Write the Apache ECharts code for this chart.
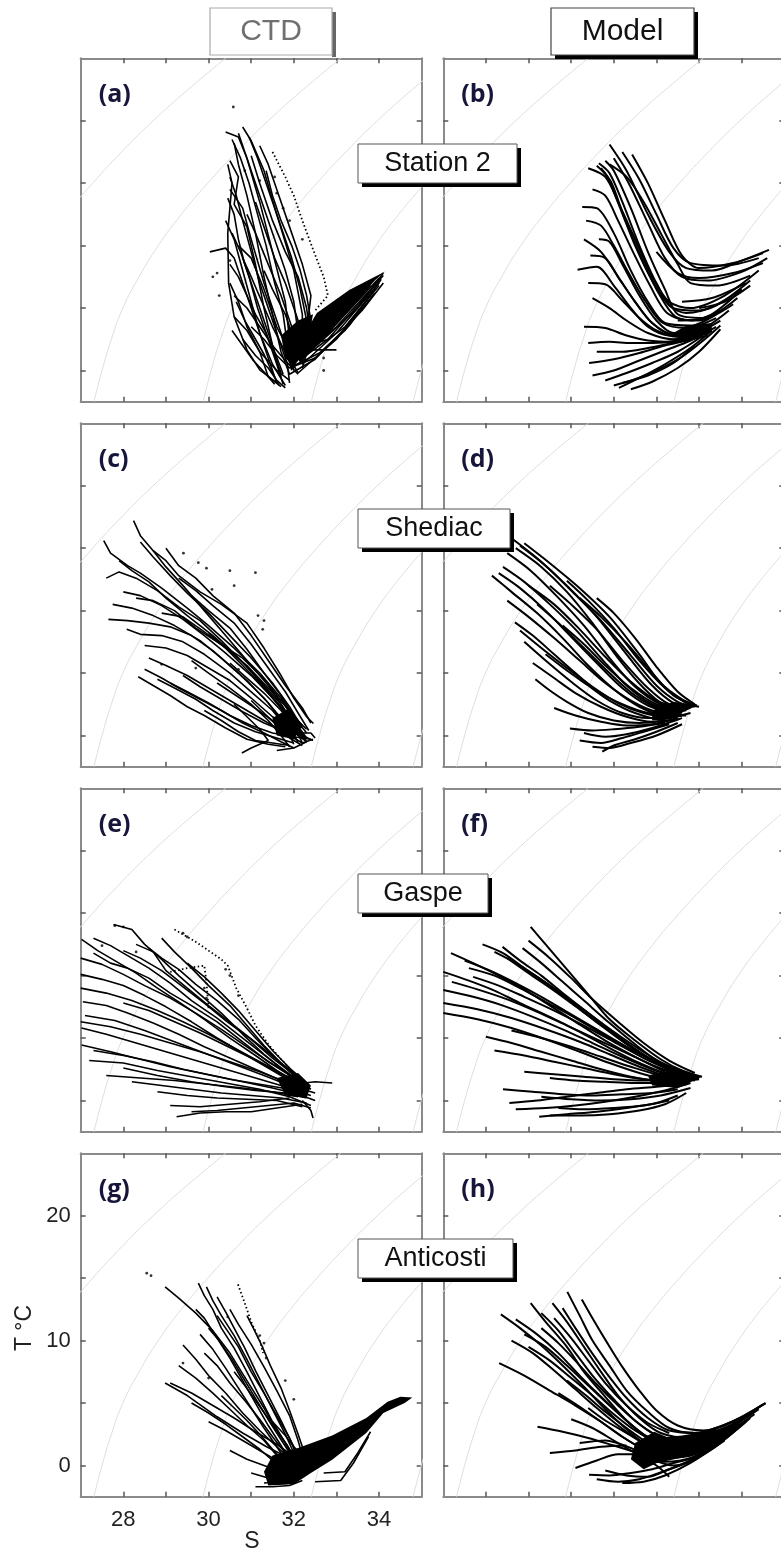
<!DOCTYPE html>
<html>
<head>
<meta charset="utf-8">
<script src="https://cdn.jsdelivr.net/npm/echarts@6/dist/echarts.min.js"></script>
<style>
html, body { margin: 0; padding: 0; background: #fff; }
#chart { width: 781px; height: 1559px; }
</style>
</head>
<body>
<div id="chart"></div>
<script>
// axes (same in every panel)
const sTicks = [28, 29, 30, 31, 32, 33, 34];
const sLabels = [28, 30, 32, 34];
const tTicks = [0, 5, 10, 15, 20];
const tLabels = [0, 10, 20];

const columnTitles = ["CTD", "Model"];
const stationNames = ["Station 2", "Shediac", "Gaspe", "Anticosti"];
const panelLetters = ["(a)", "(b)", "(c)", "(d)", "(e)", "(f)", "(g)", "(h)"];

// isopycnals (light grey arcs), [S, T]
const iso1 = [[25.67, 7.5], [26.12, 10], [26.66, 12.5], [27.28, 15], [27.96, 17.5], [28.7, 20], [29.52, 22.5], [30.4, 25]];
const iso2 = [[27.31, -2.5], [27.5, 0], [27.72, 2.5], [27.99, 5], [28.37, 7.5], [28.82, 10], [29.36, 12.5], [29.98, 15], [30.66, 17.5], [31.4, 20], [32.22, 22.5], [33.1, 25]];
const iso3 = [[29.87, -2.5], [30.06, 0], [30.28, 2.5], [30.55, 5], [30.93, 7.5], [31.38, 10], [31.92, 12.5], [32.54, 15], [33.22, 17.5], [33.96, 20], [34.78, 22.5], [35.66, 25]];
const iso4 = [[32.41, -2.5], [32.6, 0], [32.82, 2.5], [33.09, 5], [33.47, 7.5], [33.92, 10], [34.46, 12.5], [35.08, 15]];
const iso5 = [[34.8, -2.5], [34.99, 0], [35.21, 2.5]];

// (a) Station 2, CTD
const linesA = [
  [[30.4,19.1],[30.7,18.7],[30.9,17.0],[31.2,13.5],[31.5,9.5],[31.8,5.5],[31.9,2.5],[32.0,0.6],[32.6,2.2],[33.5,5.0],[34.1,7.8]],
  [[30.8,19.5],[31.0,18.4],[31.3,16.0],[31.6,12.5],[32.0,8.0],[32.2,4.5],[32.2,1.5],[32.8,3.0],[34.0,7.4]],
  [[30.6,18.2],[30.7,16.5],[30.9,14.0],[31.1,11.0],[31.3,7.5],[31.5,4.5],[31.7,1.5],[31.9,-0.3],[32.5,0.9],[33.6,4.8],[34.1,7.0]],
  [[30.5,16.8],[30.7,15.5],[30.6,13.3],[30.9,11.5],[31.1,8.5],[31.3,5.0],[31.5,2.0],[31.7,-0.5]],
  [[30.03,9.5],[30.4,9.8],[30.6,9.0],[30.8,7.0],[31.1,4.0],[31.4,1.0],[31.6,-1.0]],
  [[31.2,18.0],[31.4,16.5],[31.6,14.5],[31.9,11.5],[32.2,8.5],[32.4,6.0],[32.3,3.0],[32.2,0.5],[33.0,3.0],[34.0,7.0]],
  [[30.5,14.5],[30.8,13.0],[31.0,10.5],[31.3,7.0],[31.6,4.0],[31.9,1.0],[32.1,-0.2],[33.0,2.5],[33.9,6.5]],
  [[30.4,12.0],[30.6,10.5],[30.8,8.0],[31.0,5.5],[31.2,3.0],[31.5,0.5],[31.8,-1.2]],
  [[30.5,7.0],[30.7,5.5],[30.9,3.5],[31.2,1.5],[31.4,-0.5],[31.7,-1.3]],
  [[30.6,4.3],[30.9,3.2],[31.2,1.5],[31.6,0.0],[31.9,-0.8]],
  [[31.0,17.2],[31.2,15.0],[31.5,12.0],[31.8,9.5],[32.1,7.5],[32.3,5.0],[32.4,2.5],[32.9,3.5],[33.8,6.8]],
  [[30.9,12.5],[31.1,11.0],[31.4,8.5],[31.7,6.0],[32.0,3.0],[32.2,1.0],[33.2,3.5],[34.0,6.8]],
  [[30.7,10.0],[31.0,9.0],[31.3,6.5],[31.6,3.5],[31.9,1.5],[32.0,0.0]],
  [[30.6,6.0],[30.9,5.0],[31.2,3.5],[31.5,2.0],[31.8,0.8],[32.1,-0.3]],
  [[31.3,8.0],[31.5,6.5],[31.8,4.5],[32.0,2.5],[32.3,1.5],[33.0,3.5],[34.1,7.6]],
  [[30.8,2.5],[31.1,1.2],[31.4,0.2],[31.6,-0.8],[31.8,-1.4]],
  [[32.4,1.65],[33.0,1.65]],
  [[30.45,16.5],[30.55,15.0],[30.5,13.0],[30.45,11.0],[30.47,7.0],[30.6,4.3],[30.9,1.65],[31.2,0.05],[31.6,-1.0]],
  [[30.55,18.5],[30.75,17.0],[30.95,15.0],[31.15,12.5],[31.35,10.0],[31.55,7.0],[31.75,4.5],[31.85,2.0],[31.95,0.0]],
  [[30.7,19.0],[30.85,17.5],[31.05,15.5],[31.3,13.0],[31.55,10.5],[31.8,8.0],[32.0,5.5],[32.1,3.0],[32.15,1.0]],
  [[30.95,18.7],[31.15,17.0],[31.4,14.5],[31.7,11.5],[31.95,9.0],[32.15,6.5],[32.3,4.0],[32.25,2.0]],
  [[30.5,15.5],[30.65,14.0],[30.8,12.0],[31.0,9.5],[31.2,7.0],[31.45,4.5],[31.65,2.5],[31.85,0.5],[31.9,-1.0]],
  [[30.45,13.8],[30.6,12.5],[30.7,10.5],[30.85,8.5],[31.05,6.5],[31.3,4.0],[31.55,1.5],[31.75,-0.3]],
  [[30.55,11.0],[30.75,9.5],[30.95,7.5],[31.15,5.0],[31.4,2.5],[31.6,0.5],[31.75,-1.1]],
  [[30.5,8.5],[30.7,7.5],[30.9,6.0],[31.1,4.5],[31.35,3.0],[31.55,1.2],[31.7,-0.2]],
  [[30.65,5.5],[30.85,4.0],[31.05,2.8],[31.3,1.3],[31.5,-0.2],[31.65,-1.2]],
  [[30.55,3.2],[30.8,2.0],[31.05,0.8],[31.35,-0.3],[31.55,-1.1]],
  [[31.35,16.0],[31.5,14.0],[31.7,12.0],[31.95,10.0],[32.15,8.0],[32.3,6.0],[32.4,4.0],[32.35,2.0],[32.2,0.2]],
  [[31.1,13.5],[31.3,11.5],[31.55,9.0],[31.8,7.0],[32.0,5.0],[32.15,3.5],[32.2,1.8],[32.8,2.5],[33.5,5.2],[34.0,7.2]],
  [[30.8,9.0],[31.0,7.5],[31.25,5.5],[31.5,3.5],[31.75,1.8],[31.95,0.3],[32.6,1.4],[33.3,3.6],[34.05,7.3]],
  [[31.0,3.5],[31.3,2.5],[31.6,1.2],[31.9,0.2],[32.5,1.0],[33.2,3.2],[33.9,6.2]]
];
const dottedA = [
  [[31.5,17.5],[31.8,15.5],[32.0,14.0],[32.2,12.0],[32.45,9.7],[32.7,7.5],[32.8,6.0],[32.5,4.8]]
];
const dotsA = [[30.58,21.1],[31.55,15.5],[31.6,14.2],[31.75,13.0],[31.9,12.0],[32.2,10.5],[30.2,7.8],[30.1,7.5],[30.5,8.8],[30.25,6.0],[32.7,1.0],[32.7,0.0],[30.85,16.0],[31.2,15.2]];
const blobsA = [
  [[32.54,4.6],[33.3,6.45],[34.14,7.93],[33.9,7.2],[33.16,4.3],[32.6,2.2],[32.15,0.6],[32.0,1.5]],
  [[31.7,2.8],[32.1,4.0],[32.45,4.5],[32.3,1.8],[32.0,0.3],[31.8,1.0]]
];

// (b) Station 2, model
const linesB = [
  [[30.9,18.1],[31.3,16.0],[31.8,12.5],[32.3,9.5],[32.7,8.2],[33.3,8.0],[34.0,8.8],[34.64,9.66]],
  [[31.43,17.3],[31.8,15.0],[32.2,12.0],[32.6,9.2],[33.0,8.2],[33.8,8.6],[34.5,9.4]],
  [[30.4,16.2],[30.8,15.5],[31.1,13.5],[31.5,10.5],[31.9,7.5],[32.3,5.5],[32.8,5.0],[33.6,6.0],[34.4,8.0]],
  [[30.65,16.6],[30.9,15.8],[31.2,13.5],[31.6,10.0],[32.0,7.0],[32.4,5.0],[33.0,4.8],[34.0,6.5]],
  [[30.8,16.8],[31.0,16.0],[31.4,13.0],[31.8,9.5],[32.2,6.5],[32.5,4.5],[33.1,4.2],[33.9,5.8]],
  [[30.26,13.1],[30.6,13.0],[31.0,11.0],[31.4,8.0],[31.8,5.5],[32.2,3.8],[32.8,3.6],[33.4,4.5]],
  [[30.65,10.5],[30.9,10.3],[31.2,8.5],[31.6,6.0],[32.0,4.0],[32.4,3.0],[33.0,3.2],[33.7,4.8]],
  [[30.15,8.06],[30.6,8.3],[31.0,6.8],[31.4,5.0],[31.8,3.5],[32.3,2.8],[33.0,3.0]],
  [[30.3,3.5],[30.8,3.4],[31.3,2.8],[31.8,2.4],[32.4,2.3],[33.2,2.8]],
  [[30.42,0.6],[31.0,0.9],[31.6,1.4],[32.2,2.0],[32.8,2.5],[33.3,3.3]],
  [[31.12,-1.4],[31.6,-0.6],[32.2,0.5],[32.8,1.8],[33.3,3.2]],
  [[30.9,16.5],[31.3,15.5],[31.7,13.5],[32.1,11.0],[32.5,8.5],[32.8,7.0],[33.4,6.8],[34.2,7.6]],
  [[31.2,17.5],[31.6,15.3],[32.0,12.5],[32.4,9.8],[32.8,8.6],[33.6,8.4],[34.4,9.0]],
  [[30.3,10.5],[30.7,9.5],[31.1,7.5],[31.5,5.5],[31.9,3.8],[32.4,2.9],[33.0,3.0]],
  [[30.5,5.8],[30.9,5.0],[31.3,4.0],[31.8,3.0],[32.4,2.5],[33.1,3.0]],
  [[30.6,1.5],[31.2,1.5],[31.8,1.8],[32.5,2.3],[33.2,3.0]],
  [[30.8,-0.8],[31.3,-0.2],[31.9,0.6],[32.5,1.5],[33.1,2.8]],
  [[31.2,-1.0],[31.8,-0.4],[32.4,0.6],[32.9,2.0]],
  [[32.5,4.0],[33.2,4.3],[34.0,6.46]],
  [[32.6,5.5],[33.3,5.8],[34.1,7.0]],
  [[30.6,16.4],[30.85,15.5],[31.15,13.0],[31.5,10.0],[31.9,7.2],[32.3,5.2],[32.7,4.6],[33.4,5.2],[34.2,7.2]],
  [[30.7,16.2],[30.95,15.0],[31.25,12.2],[31.65,9.0],[32.05,6.2],[32.45,4.3],[33.0,4.0],[33.8,5.3]],
  [[30.5,14.5],[30.8,14.0],[31.1,12.0],[31.45,9.5],[31.85,6.8],[32.25,4.6],[32.8,4.0],[33.5,4.8]],
  [[30.35,12.0],[30.7,11.6],[31.0,10.0],[31.35,7.8],[31.75,5.5],[32.15,3.8],[32.7,3.4],[33.4,4.2]],
  [[30.45,9.2],[30.8,9.0],[31.1,7.5],[31.5,5.5],[31.9,3.8],[32.35,2.9],[32.9,3.0],[33.5,4.0]],
  [[30.4,7.0],[30.8,6.9],[31.2,5.6],[31.6,4.2],[32.0,3.2],[32.5,2.7],[33.1,3.0]],
  [[30.4,2.2],[30.9,2.3],[31.4,2.2],[31.9,2.2],[32.5,2.4],[33.2,3.0]],
  [[30.5,-0.4],[31.0,0.0],[31.6,0.8],[32.2,1.6],[32.8,2.4],[33.4,3.5]],
  [[31.0,-1.2],[31.5,-0.7],[32.0,0.0],[32.6,1.1],[33.1,2.4],[33.5,3.6]],
  [[31.4,-1.5],[31.9,-0.9],[32.5,0.2],[33.0,1.5],[33.5,3.3]],
  [[31.0,17.0],[31.35,15.0],[31.8,11.8],[32.2,9.0],[32.6,7.5],[33.2,7.2],[34.0,7.9],[34.6,9.0]],
  [[32.0,9.5],[32.5,7.8],[33.0,7.4],[33.8,7.8],[34.5,8.6]],
  [[33.0,5.0],[33.6,5.5],[34.2,6.8]]
];
const blobsB = [
  [[32.3,2.8],[32.7,3.6],[33.3,3.8],[33.3,3.1],[32.8,2.4]]
];

// (c) Shediac, CTD
const linesC = [
  [[28.24,17.2],[28.4,16.0],[28.7,14.8],[29.0,13.5],[29.4,12.0],[29.9,10.0],[30.4,8.0],[30.9,6.0],[31.4,4.0],[31.8,2.0],[32.1,0.5],[32.3,-0.3]],
  [[27.54,15.6],[27.7,14.6],[28.1,13.6],[28.4,13.0],[28.9,11.8],[29.5,10.2],[30.0,8.8],[30.6,7.0],[31.2,5.0],[31.7,3.0],[32.0,1.2],[32.2,0.0]],
  [[27.6,12.6],[27.9,13.1],[28.3,12.6],[28.8,11.6],[29.3,10.3],[29.8,9.2],[30.3,7.6],[30.9,5.5],[31.4,3.5],[31.9,1.5],[32.2,-0.2]],
  [[27.65,9.3],[28.1,9.2],[28.6,9.0],[29.1,8.7],[29.6,8.0],[30.1,6.8],[30.7,5.0],[31.3,3.0],[31.8,1.0],[32.1,-0.5]],
  [[28.08,8.5],[28.4,8.1],[28.9,8.0],[29.4,7.5],[29.9,6.5],[30.5,5.0],[31.0,3.5],[31.5,2.0],[31.9,0.3]],
  [[28.35,4.7],[28.7,4.0],[29.1,3.2],[29.5,2.3],[29.9,1.6],[30.4,0.6],[30.9,-0.3],[31.4,-0.7],[31.8,-0.9]],
  [[28.8,4.5],[29.2,3.8],[29.7,2.9],[30.1,2.0],[30.6,1.0],[31.1,0.3],[31.6,-0.2],[32.0,-0.6]],
  [[29.1,4.2],[29.5,3.5],[30.0,2.6],[30.5,1.6],[31.0,0.8],[31.5,0.2],[32.0,-0.1],[32.4,-0.3]],
  [[28.7,14.8],[29.0,14.0],[29.3,12.8],[29.8,11.5],[30.3,10.5],[30.9,9.0],[31.3,7.0],[31.7,4.8],[32.0,3.0],[32.3,1.5],[32.46,0.96]],
  [[29.0,15.0],[29.3,13.6],[29.7,12.6],[30.1,11.2],[30.6,9.8],[31.0,8.0],[31.4,6.0],[31.8,4.0],[32.2,2.2],[32.4,1.0]],
  [[28.3,11.0],[28.7,10.8],[29.2,10.0],[29.7,8.6],[30.2,7.5],[30.8,6.2],[31.3,4.5],[31.7,2.8],[32.0,1.5],[32.3,0.5]],
  [[28.5,7.2],[29.0,7.0],[29.5,6.4],[30.0,5.4],[30.5,4.4],[31.0,3.0],[31.5,1.5],[31.9,0.5],[32.3,-0.5]],
  [[29.6,6.0],[30.0,5.0],[30.5,3.8],[31.0,2.5],[31.4,1.2],[31.7,0.0],[31.9,-0.9]],
  [[30.6,2.5],[30.9,1.5],[31.2,0.5],[31.4,-0.4],[31.0,-1.0],[30.78,-1.4]],
  [[29.9,2.0],[30.3,1.2],[30.7,0.3],[31.1,-0.4],[31.5,-0.6],[31.9,-0.8]],
  [[28.9,9.8],[29.4,9.5],[29.9,8.3],[30.4,7.0],[30.9,5.6],[31.4,3.8],[31.9,2.0],[32.2,0.8]],
  [[30.2,4.2],[30.6,3.3],[31.0,2.4],[31.5,1.2],[32.0,0.2],[32.4,0.2],[32.5,-0.2]],
  [[28.4,15.5],[28.7,14.3],[29.1,12.8],[29.5,11.4],[30.0,9.8],[30.5,8.0],[31.0,6.2],[31.5,4.2],[31.9,2.3],[32.2,0.6]],
  [[27.9,14.0],[28.2,13.2],[28.6,12.3],[29.0,11.0],[29.5,9.6],[30.1,8.0],[30.7,6.2],[31.2,4.4],[31.7,2.5],[32.0,0.8],[32.2,-0.6]],
  [[28.0,11.5],[28.4,11.2],[28.9,10.4],[29.4,9.3],[29.9,8.0],[30.4,6.6],[31.0,4.8],[31.5,3.0],[31.9,1.3],[32.1,0.0]],
  [[27.75,10.5],[28.2,10.2],[28.7,9.6],[29.2,8.8],[29.8,7.6],[30.3,6.2],[30.9,4.4],[31.4,2.6],[31.8,0.8],[32.0,-0.7]],
  [[28.6,6.2],[29.0,5.6],[29.5,4.8],[30.0,3.8],[30.5,2.8],[31.0,1.8],[31.5,0.8],[31.9,-0.2],[32.2,-0.8]],
  [[28.5,5.3],[28.9,4.6],[29.3,3.8],[29.8,2.9],[30.3,2.0],[30.8,1.0],[31.3,0.2],[31.7,-0.5],[32.0,-1.0]],
  [[29.4,4.8],[29.8,3.9],[30.3,2.9],[30.8,1.9],[31.3,1.0],[31.8,0.3],[32.2,0.0],[32.45,-0.4]],
  [[29.3,12.6],[29.7,11.6],[30.1,10.4],[30.6,9.0],[31.0,7.3],[31.4,5.4],[31.8,3.5],[32.1,1.8],[32.35,0.4]],
  [[29.6,11.2],[30.0,10.0],[30.5,8.6],[30.9,6.9],[31.3,5.0],[31.7,3.2],[32.0,1.5],[32.3,0.2]],
  [[30.0,8.2],[30.4,7.0],[30.8,5.6],[31.2,4.2],[31.6,2.6],[32.0,1.2],[32.3,-0.2]],
  [[30.5,5.8],[30.9,4.6],[31.3,3.4],[31.7,2.0],[32.0,0.8],[32.3,-0.5],[32.0,-1.0],[31.6,-1.2]],
  [[31.0,2.8],[31.3,1.8],[31.6,0.8],[31.9,0.0],[32.2,-0.6],[32.45,-0.3]]
];
const dotsC = [[29.41,14.6],[29.76,13.84],[29.95,13.4],[30.5,13.2],[30.6,12.0],[31.1,13.04],[30.08,11.7],[31.16,9.6],[31.3,9.2],[31.27,8.5],[28.9,5.7],[30.7,5.3],[29.7,5.4]];
const blobsC = [
  [[31.5,1.4],[31.9,2.2],[32.2,0.8],[32.0,-0.3],[31.6,0.0]]
];

// (d) Shediac, model
const linesD = [
  [[28.9,15.4],[29.5,13.8],[30.2,11.8],[30.9,9.5],[31.6,6.5],[32.1,4.2],[32.6,2.9],[32.95,2.4]],
  [[28.6,15.8],[29.2,14.2],[29.9,12.0],[30.6,9.5],[31.3,6.5],[31.9,4.0],[32.4,2.6],[32.8,2.2]],
  [[28.7,15.0],[29.3,13.5],[29.9,11.5],[30.5,9.0],[31.1,6.2],[31.7,3.8],[32.2,2.4],[32.7,2.0]],
  [[28.14,12.8],[28.6,11.5],[29.2,9.8],[29.8,7.8],[30.4,5.6],[31.0,3.7],[31.6,2.3],[32.2,1.6],[32.7,1.6]],
  [[28.4,13.5],[28.9,12.3],[29.5,10.5],[30.1,8.5],[30.7,6.2],[31.3,4.0],[31.9,2.5],[32.5,2.0]],
  [[28.68,9.06],[29.1,8.0],[29.6,6.5],[30.1,5.0],[30.6,3.6],[31.2,2.5],[31.8,1.8],[32.4,1.6]],
  [[29.16,4.5],[29.5,3.6],[29.9,2.7],[30.4,1.8],[31.0,1.2],[31.6,1.0],[32.2,1.2]],
  [[29.4,6.5],[29.9,5.2],[30.4,4.0],[30.9,2.8],[31.5,1.8],[32.1,1.3],[32.6,1.6]],
  [[29.5,12.0],[30.0,10.5],[30.6,8.5],[31.2,6.0],[31.8,3.8],[32.3,2.5],[32.8,2.3]],
  [[29.2,10.5],[29.7,9.0],[30.3,7.0],[30.9,5.0],[31.5,3.2],[32.1,2.1],[32.6,1.9]],
  [[28.9,7.5],[29.4,6.0],[30.0,4.3],[30.6,2.8],[31.2,1.8],[31.8,1.4],[32.3,1.4]],
  [[29.97,0.56],[30.5,0.4],[31.0,0.5],[31.6,0.7],[32.2,1.0]],
  [[30.2,-0.4],[30.7,-0.6],[31.2,-0.2],[31.8,0.4],[32.3,0.9]],
  [[30.73,-1.3],[31.0,-0.8],[31.5,-0.3],[32.0,0.3],[32.5,1.0]],
  [[30.6,11.0],[31.0,9.8],[31.5,7.8],[32.0,5.5],[32.5,3.5],[32.9,2.5]],
  [[29.8,8.8],[30.3,7.3],[30.8,5.6],[31.4,3.8],[32.0,2.5],[32.6,2.1]],
  [[28.8,15.2],[29.4,13.6],[30.0,11.6],[30.7,9.2],[31.4,6.4],[32.0,4.0],[32.5,2.7],[32.9,2.3]],
  [[28.5,14.6],[29.05,13.2],[29.65,11.2],[30.3,8.8],[30.9,6.2],[31.5,3.9],[32.1,2.5],[32.7,2.1]],
  [[28.3,13.0],[28.8,11.8],[29.4,10.0],[30.0,7.9],[30.6,5.8],[31.2,3.8],[31.8,2.4],[32.4,1.8]],
  [[28.5,10.8],[29.0,9.5],[29.6,7.8],[30.2,6.0],[30.8,4.2],[31.4,2.8],[32.0,1.9],[32.6,1.7]],
  [[28.8,8.4],[29.3,7.0],[29.9,5.4],[30.5,3.9],[31.1,2.6],[31.7,1.8],[32.3,1.5],[32.8,1.8]],
  [[29.1,5.8],[29.6,4.6],[30.1,3.4],[30.7,2.3],[31.3,1.5],[31.9,1.1],[32.5,1.3]],
  [[29.6,2.2],[30.1,1.6],[30.7,1.1],[31.3,0.8],[31.9,0.9],[32.5,1.4]],
  [[30.3,0.2],[30.8,-0.1],[31.3,0.1],[31.9,0.6],[32.6,1.4]],
  [[30.5,-0.9],[30.9,-1.0],[31.4,-0.6],[32.0,0.0],[32.6,0.9]],
  [[29.9,12.4],[30.4,10.8],[31.0,8.6],[31.6,6.0],[32.2,3.8],[32.7,2.6],[33.0,2.3]],
  [[30.2,11.0],[30.7,9.5],[31.3,7.4],[31.9,5.0],[32.4,3.2],[32.85,2.5]],
  [[29.0,12.0],[29.6,10.5],[30.2,8.5],[30.8,6.3],[31.4,4.3],[32.0,2.8],[32.6,2.2]]
];
const blobsD = [
  [[31.9,2.0],[32.4,2.7],[32.95,2.4],[32.4,1.5],[31.9,1.2]]
];

// (e) Gaspe, CTD
const linesE = [
  [[27.77,14.1],[28.2,13.7],[28.5,12.5],[28.9,11.3],[29.3,10.0],[29.8,8.5],[30.3,7.0],[30.8,5.3],[31.3,3.7],[31.8,2.3],[32.2,1.2]],
  [[27.02,12.9],[27.4,12.0],[27.8,11.2],[28.3,10.2],[28.8,9.0],[29.3,7.9],[29.9,6.5],[30.5,5.0],[31.1,3.6],[31.6,2.4],[32.1,1.3]],
  [[27.0,10.1],[27.5,9.7],[28.0,9.2],[28.5,8.4],[29.0,7.5],[29.6,6.3],[30.2,5.0],[30.8,3.8],[31.4,2.6],[31.9,1.6],[32.3,0.8]],
  [[27.05,7.9],[27.6,7.6],[28.1,7.0],[28.7,6.2],[29.3,5.3],[29.9,4.3],[30.5,3.4],[31.1,2.5],[31.7,1.6],[32.2,0.9]],
  [[27.02,5.8],[27.6,5.3],[28.2,4.7],[28.8,4.1],[29.4,3.5],[30.0,2.9],[30.6,2.3],[31.2,1.7],[31.8,1.1],[32.3,0.6]],
  [[27.02,4.45],[27.7,3.9],[28.4,3.3],[29.1,2.7],[29.8,2.2],[30.5,1.7],[31.2,1.3],[31.9,0.9],[32.4,0.4]],
  [[28.0,2.6],[28.8,2.0],[29.6,1.5],[30.4,1.1],[31.1,0.8],[31.8,0.6],[32.3,0.2]],
  [[29.25,-1.3],[29.8,-1.0],[30.4,-0.9],[31.0,-0.9],[31.6,-0.6],[32.2,-0.3]],
  [[28.6,12.2],[28.9,11.4],[29.3,10.5],[29.7,9.3],[30.2,8.0],[30.7,6.5],[31.1,5.0],[31.5,3.6],[31.9,2.3],[32.2,1.6]],
  [[27.3,11.8],[27.7,11.0],[28.1,10.6],[28.6,9.8],[29.1,8.6],[29.6,7.6],[30.2,6.3],[30.8,4.7],[31.4,3.1],[32.0,1.9]],
  [[28.3,12.5],[28.7,11.9],[29.0,10.4],[29.5,9.0],[30.0,7.6],[30.6,6.0],[31.2,4.4],[31.7,3.0],[32.2,1.7]],
  [[27.1,6.8],[27.8,6.4],[28.5,5.6],[29.2,4.7],[29.9,3.8],[30.6,2.9],[31.3,2.0],[31.9,1.2],[32.5,0.6]],
  [[27.2,3.2],[28.0,3.0],[28.8,2.4],[29.6,1.9],[30.4,1.4],[31.2,0.9],[31.9,0.3],[32.4,-0.4]],
  [[28.8,0.7],[29.5,0.4],[30.2,0.2],[30.9,0.1],[31.6,0.0],[32.2,-0.5]],
  [[29.1,-0.4],[29.8,-0.5],[30.5,-0.3],[31.2,-0.1],[31.9,0.2]],
  [[32.0,1.3],[32.5,1.5],[32.9,1.4]],
  [[32.2,0.0],[32.4,-0.8],[32.45,-1.4]],
  [[27.3,13.0],[27.7,12.4],[28.1,11.6],[28.6,10.6],[29.1,9.4],[29.6,8.0],[30.2,6.6],[30.8,5.0],[31.4,3.4],[31.9,2.1],[32.3,1.0]],
  [[27.0,11.4],[27.5,10.9],[28.0,10.1],[28.5,9.2],[29.1,8.2],[29.7,7.0],[30.3,5.7],[30.9,4.3],[31.5,2.9],[32.0,1.8],[32.4,0.9]],
  [[27.0,9.0],[27.6,8.6],[28.2,8.0],[28.8,7.2],[29.4,6.3],[30.0,5.3],[30.6,4.2],[31.2,3.1],[31.8,2.0],[32.3,1.1]],
  [[27.0,6.3],[27.7,5.9],[28.4,5.3],[29.1,4.6],[29.8,3.9],[30.5,3.1],[31.2,2.3],[31.8,1.5],[32.3,0.8]],
  [[27.3,4.0],[28.0,3.6],[28.7,3.1],[29.4,2.5],[30.1,2.0],[30.8,1.5],[31.5,1.0],[32.1,0.5],[32.5,0.0]],
  [[28.2,1.5],[28.9,1.2],[29.6,0.9],[30.3,0.6],[31.0,0.4],[31.7,0.2],[32.3,-0.2]],
  [[29.6,-0.9],[30.2,-0.8],[30.8,-0.6],[31.4,-0.4],[32.0,-0.2],[32.4,-0.6]],
  [[28.9,13.0],[29.2,11.9],[29.6,10.6],[30.0,9.2],[30.5,7.6],[30.9,6.0],[31.3,4.4],[31.7,3.0],[32.1,1.8]],
  [[28.0,12.0],[28.4,11.4],[28.9,10.4],[29.4,9.1],[29.9,7.8],[30.4,6.4],[31.0,4.9],[31.5,3.4],[32.0,2.1]],
  [[29.5,11.0],[29.9,9.9],[30.3,8.6],[30.7,7.2],[31.1,5.6],[31.5,4.0],[31.9,2.6],[32.3,1.4]],
  [[28.0,7.8],[28.6,7.2],[29.2,6.3],[29.8,5.4],[30.4,4.4],[31.0,3.4],[31.6,2.3],[32.2,1.3]],
  [[27.6,2.0],[28.4,1.8],[29.2,1.6],[30.0,1.3],[30.8,1.0],[31.5,0.7],[32.1,0.3]]
];
const dottedE = [
  [[29.2,13.7],[29.7,12.7],[30.3,11.3],[30.45,10.8],[30.65,9.0],[30.9,7.4],[31.1,6.0],[31.4,4.5],[31.7,3.3],[32.0,2.2]],
  [[29.1,10.3],[29.5,10.6],[29.9,10.8],[29.95,9.5],[30.0,7.4]]
];
const dotsE = [[27.8,14.0],[28.0,13.9],[29.4,13.4],[29.5,13.1],[30.4,10.5],[29.9,9.0],[29.95,8.2],[27.5,12.4],[28.3,11.9],[30.5,10.0],[30.7,8.4]];
const blobsE = [
  [[31.6,1.8],[32.1,2.2],[32.4,1.2],[32.3,0.2],[31.8,0.4]]
];

// (f) Gaspe, model
const linesF = [
  [[29.05,13.9],[29.4,12.5],[29.9,10.5],[30.4,8.5],[30.9,6.5],[31.5,4.8],[32.1,3.3],[32.6,2.4],[33.07,1.9]],
  [[28.86,12.2],[29.3,11.0],[29.8,9.5],[30.3,8.0],[30.9,6.2],[31.5,4.5],[32.1,3.0],[32.7,2.2]],
  [[27.92,12.5],[28.4,11.8],[28.9,10.6],[29.5,9.2],[30.1,7.6],[30.7,6.0],[31.3,4.5],[31.9,3.2],[32.5,2.3]],
  [[28.39,12.3],[28.8,11.2],[29.3,10.0],[29.8,8.6],[30.4,7.0],[31.0,5.4],[31.6,3.9],[32.2,2.7],[32.8,2.0]],
  [[27.18,11.8],[27.7,11.0],[28.3,10.0],[28.9,8.9],[29.5,7.6],[30.1,6.3],[30.8,4.8],[31.5,3.5],[32.2,2.3]],
  [[27.0,10.3],[27.6,9.6],[28.2,8.8],[28.8,7.8],[29.5,6.7],[30.2,5.5],[30.9,4.2],[31.6,3.0],[32.3,2.0]],
  [[27.0,8.85],[27.7,8.3],[28.4,7.6],[29.1,6.7],[29.8,5.7],[30.5,4.6],[31.2,3.5],[31.9,2.5],[32.6,1.8]],
  [[27.0,7.0],[27.8,6.5],[28.6,5.8],[29.4,4.9],[30.2,3.9],[30.9,3.0],[31.6,2.2],[32.3,1.6]],
  [[28.0,5.1],[28.6,4.6],[29.3,3.9],[30.0,3.2],[30.7,2.5],[31.4,1.9],[32.1,1.5],[32.7,1.3]],
  [[28.55,-0.2],[29.2,0.0],[29.9,0.3],[30.6,0.6],[31.3,0.9],[32.0,1.1],[32.6,1.3]],
  [[29.25,-1.3],[29.9,-1.1],[30.6,-0.9],[31.3,-0.6],[32.0,-0.2],[32.5,0.4]],
  [[28.4,0.9],[29.1,0.7],[29.8,0.5],[30.5,0.4],[31.2,0.5],[31.9,0.6],[32.5,0.9]],
  [[29.5,1.8],[30.1,1.6],[30.8,1.5],[31.5,1.4],[32.2,1.4],[32.9,1.7]],
  [[29.7,-0.6],[30.3,-0.7],[31.0,-0.6],[31.7,-0.4],[32.3,0.0]],
  [[27.6,10.6],[28.2,10.0],[28.8,9.0],[29.4,7.9],[30.0,6.8],[30.7,5.4],[31.4,4.1],[32.1,2.9],[32.8,2.1]],
  [[28.5,11.4],[29.0,10.2],[29.6,8.8],[30.2,7.3],[30.8,5.8],[31.4,4.3],[32.0,3.1],[32.6,2.3]],
  [[27.5,11.2],[28.1,10.4],[28.7,9.4],[29.3,8.3],[29.9,7.1],[30.6,5.7],[31.3,4.3],[32.0,3.1],[32.7,2.2]],
  [[27.2,9.5],[27.8,8.9],[28.5,8.1],[29.2,7.1],[29.9,6.0],[30.6,4.9],[31.3,3.8],[32.0,2.7],[32.7,1.9]],
  [[27.0,7.8],[27.8,7.3],[28.6,6.6],[29.4,5.7],[30.2,4.7],[30.9,3.7],[31.6,2.7],[32.3,1.9],[32.9,1.6]],
  [[28.2,4.0],[28.9,3.6],[29.6,3.1],[30.3,2.6],[31.0,2.1],[31.7,1.7],[32.4,1.5],[33.0,1.7]],
  [[28.9,2.3],[29.6,2.1],[30.3,1.9],[31.0,1.7],[31.7,1.6],[32.4,1.6],[33.0,1.8]],
  [[28.7,-0.7],[29.4,-0.6],[30.1,-0.4],[30.8,-0.1],[31.5,0.3],[32.2,0.8],[32.8,1.4]],
  [[29.5,-1.2],[30.2,-1.2],[30.9,-1.1],[31.6,-0.8],[32.2,-0.3],[32.7,0.6]],
  [[29.3,0.3],[30.0,0.1],[30.7,0.0],[31.4,0.1],[32.1,0.4],[32.8,1.0]],
  [[29.0,12.8],[29.5,11.4],[30.0,9.8],[30.5,8.1],[31.1,6.3],[31.7,4.6],[32.3,3.2],[32.9,2.2]],
  [[28.2,11.9],[28.7,11.0],[29.2,9.9],[29.8,8.5],[30.4,7.0],[31.0,5.5],[31.6,4.1],[32.2,2.9],[32.9,2.0]],
  [[27.7,9.9],[28.3,9.2],[28.9,8.3],[29.6,7.2],[30.3,6.0],[31.0,4.7],[31.7,3.4],[32.4,2.3]],
  [[28.6,5.6],[29.3,5.0],[30.0,4.3],[30.7,3.5],[31.4,2.7],[32.1,2.0],[32.8,1.6]]
];
const blobsF = [
  [[31.8,2.0],[32.4,2.5],[33.07,1.9],[32.5,1.0],[31.9,1.2]]
];

// (g) Anticosti, CTD
const linesG = [
  [[28.98,14.3],[29.3,13.4],[29.7,12.2],[30.1,10.8],[30.5,9.0],[30.9,6.8],[31.3,4.6],[31.6,2.8],[31.9,1.3],[32.1,0.2]],
  [[29.76,14.6],[29.9,13.6],[30.1,12.5],[30.3,11.0],[30.6,9.4],[30.9,7.5],[31.2,5.5],[31.5,3.5],[31.8,1.8],[32.0,0.5]],
  [[29.95,14.3],[30.1,13.2],[30.3,12.0],[30.6,10.4],[30.9,8.5],[31.2,6.5],[31.5,4.5],[31.8,2.5],[32.0,1.0]],
  [[28.98,6.6],[29.5,5.6],[30.2,3.9],[30.8,2.6],[31.36,1.5],[31.98,0.45]],
  [[29.4,9.65],[29.7,8.5],[30.0,7.2],[30.4,5.8],[30.8,4.2],[31.2,2.8],[31.6,1.5],[32.0,0.3]],
  [[29.7,12.5],[29.9,11.8],[30.2,10.2],[30.5,8.6],[30.8,6.8],[31.1,5.0],[31.4,3.2],[31.7,1.6],[32.0,-0.2]],
  [[30.2,12.0],[30.4,11.0],[30.7,9.5],[31.0,7.5],[31.3,5.8],[31.6,4.0],[31.9,2.2],[32.1,0.8]],
  [[29.8,10.5],[30.1,9.3],[30.4,7.8],[30.7,6.2],[31.0,4.6],[31.3,3.0],[31.6,1.5],[31.9,0.0],[32.0,-1.0]],
  [[29.3,8.0],[29.7,7.0],[30.1,5.8],[30.5,4.5],[30.9,3.2],[31.3,2.0],[31.6,0.8],[31.9,-0.5]],
  [[29.6,5.0],[30.0,4.2],[30.4,3.3],[30.8,2.3],[31.2,1.3],[31.5,0.4],[31.8,-0.6]],
  [[30.5,12.5],[30.7,11.3],[31.0,9.7],[31.3,7.9],[31.6,6.0],[31.9,4.0],[32.1,2.0],[32.2,0.8]],
  [[30.3,5.6],[30.6,4.6],[30.9,3.6],[31.2,2.5],[31.5,1.3],[31.8,0.2],[32.0,-1.0]],
  [[31.1,-1.7],[31.5,-1.7],[31.9,-1.6],[32.2,-1.2]],
  [[31.3,-1.4],[31.7,-1.3],[32.1,-1.0],[32.4,-0.2]],
  [[32.5,-1.3],[33.1,-1.2],[33.4,0.2],[33.75,2.3]],
  [[32.7,-0.6],[33.2,-0.5],[33.5,1.0],[33.8,2.7]],
  [[31.5,3.5],[31.8,2.4],[32.0,1.5],[32.2,0.8]],
  [[30.2,13.5],[30.4,12.3],[30.6,11.0],[30.85,9.4],[31.1,7.6],[31.4,5.6],[31.7,3.6],[31.95,1.8],[32.1,0.4]],
  [[30.0,11.0],[30.25,10.0],[30.55,8.5],[30.85,6.8],[31.15,5.1],[31.45,3.4],[31.75,1.8],[32.0,0.5]],
  [[29.9,9.0],[30.2,8.0],[30.5,6.6],[30.85,5.2],[31.2,3.7],[31.5,2.3],[31.8,1.0],[32.0,-0.5]],
  [[30.9,12.0],[31.05,11.0],[31.25,9.6],[31.45,8.0],[31.7,6.2],[31.9,4.4],[32.1,2.5],[32.25,1.0]],
  [[30.6,7.5],[30.85,6.4],[31.1,5.2],[31.35,4.0],[31.6,2.8],[31.85,1.6],[32.05,0.3]],
  [[29.1,6.6],[29.6,5.8],[30.1,4.8],[30.6,3.8],[31.1,2.7],[31.6,1.7],[32.0,0.7]],
  [[30.0,3.5],[30.4,2.8],[30.8,2.0],[31.2,1.2],[31.6,0.4],[31.9,-0.4],[32.1,-1.2]],
  [[31.0,-0.6],[31.4,-1.0],[31.8,-1.2],[32.2,-0.8]],
  [[30.5,1.2],[30.9,0.5],[31.3,0.0],[31.7,-0.5],[32.1,-0.9]]
];
const dottedG = [
  [[30.69,14.5],[30.85,13.0],[31.0,11.5],[31.2,10.0],[31.28,9.0]]
];
const dotsG = [[28.55,15.4],[28.65,15.2],[31.2,10.4],[31.35,8.6],[31.8,6.8],[32.0,5.3],[29.4,8.2],[30.0,7.0],[31.3,9.8],[30.45,11.9]];
const blobsG = [
  [[32.1,1.4],[32.9,2.4],[33.7,3.8],[34.2,5.1],[34.5,5.5],[34.78,5.45],[34.6,5.0],[34.1,4.2],[33.7,2.6],[32.9,0.45],[32.4,-0.6],[32.0,-0.2]],
  [[31.5,0.8],[32.1,1.4],[32.4,-0.6],[32.0,-1.5],[31.4,-1.6],[31.3,-0.5]]
];

// (h) Anticosti, model
const linesH = [
  [[29.91,13.9],[30.2,12.0],[30.5,10.0],[30.9,8.0],[31.3,6.0],[31.8,4.3],[32.3,3.0],[32.9,2.6],[33.7,3.4],[34.56,5.0]],
  [[29.56,13.0],[29.9,11.5],[30.3,9.5],[30.7,7.5],[31.1,5.6],[31.6,3.8],[32.1,2.6],[32.8,2.2],[33.6,3.0],[34.4,4.6]],
  [[29.05,13.0],[29.4,11.5],[29.9,9.5],[30.3,7.5],[30.8,5.5],[31.3,3.6],[31.8,2.3],[32.5,1.8],[33.4,2.6],[34.3,4.3]],
  [[28.35,12.1],[28.8,11.0],[29.3,9.6],[29.8,8.0],[30.3,6.3],[30.8,4.5],[31.3,2.9],[31.8,1.6],[32.4,1.1],[33.2,1.8]],
  [[28.7,11.7],[29.2,10.5],[29.7,9.0],[30.2,7.2],[30.7,5.5],[31.2,3.9],[31.7,2.4],[32.2,1.5],[32.9,1.6],[33.8,3.0]],
  [[28.31,8.2],[28.9,7.2],[29.5,6.0],[30.1,4.8],[30.7,3.5],[31.2,2.3],[31.7,1.3],[32.2,0.8],[32.9,1.0],[34.0,3.4]],
  [[29.21,3.1],[29.8,2.7],[30.4,2.2],[31.0,1.6],[31.6,1.0],[32.2,0.6],[32.9,0.9],[33.7,2.5]],
  [[30.1,-0.2],[30.6,0.4],[31.1,0.9],[31.6,0.9],[32.2,0.3],[32.8,0.6],[33.5,2.0]],
  [[30.42,-0.75],[30.9,-0.8],[31.4,-0.6],[31.9,-0.3],[32.4,0.2],[33.0,0.8],[34.0,3.3]],
  [[30.6,-1.1],[31.1,-1.3],[31.6,-1.1],[32.06,-0.6],[32.6,0.1],[33.3,1.3],[34.2,3.8]],
  [[29.3,12.2],[29.7,10.8],[30.1,9.0],[30.5,7.2],[31.0,5.3],[31.5,3.6],[32.0,2.4],[32.6,2.0]],
  [[28.9,10.5],[29.4,9.5],[29.9,8.0],[30.4,6.4],[30.9,4.8],[31.4,3.3],[31.9,2.0],[32.4,1.4]],
  [[29.6,11.8],[30.0,10.2],[30.4,8.4],[30.8,6.6],[31.3,4.8],[31.8,3.4],[32.3,2.6]],
  [[29.7,5.8],[30.2,4.7],[30.7,3.5],[31.2,2.3],[31.7,1.3],[32.2,0.6]],
  [[29.5,1.0],[30.1,1.2],[30.7,1.5],[31.3,1.6]],
  [[30.0,3.7],[30.5,3.0],[31.0,2.0],[31.5,1.0],[32.0,0.0],[32.3,-0.9]],
  [[29.8,12.6],[30.1,11.0],[30.45,9.2],[30.85,7.3],[31.3,5.4],[31.8,3.8],[32.3,2.8],[33.0,2.6],[33.8,3.5],[34.5,4.9]],
  [[29.3,11.0],[29.7,9.8],[30.15,8.2],[30.6,6.5],[31.1,4.8],[31.6,3.3],[32.1,2.3],[32.8,2.0],[33.6,2.8],[34.4,4.5]],
  [[29.0,9.5],[29.5,8.4],[30.0,7.0],[30.5,5.6],[31.0,4.1],[31.5,2.8],[32.0,1.9],[32.7,1.6],[33.5,2.4],[34.3,4.1]],
  [[28.6,10.0],[29.1,9.0],[29.6,7.6],[30.1,6.1],[30.6,4.6],[31.1,3.2],[31.6,2.0],[32.1,1.2],[32.8,1.3],[33.9,3.2]],
  [[29.9,6.8],[30.35,5.6],[30.8,4.3],[31.3,3.0],[31.8,1.8],[32.3,1.0],[33.0,1.2],[34.1,3.6]],
  [[30.4,4.6],[30.8,3.6],[31.3,2.6],[31.8,1.6],[32.3,0.9],[33.0,1.0],[33.9,3.0]],
  [[30.2,1.8],[30.8,2.0],[31.4,1.4],[31.9,0.5],[32.4,0.0],[33.1,0.9],[34.1,3.5]],
  [[30.8,-0.4],[31.3,-0.8],[31.8,-0.9],[32.3,-0.3],[32.9,0.5],[33.8,2.7]],
  [[31.2,-1.4],[31.7,-1.3],[32.2,-0.8],[32.8,0.2],[33.6,2.0]],
  [[30.25,13.3],[30.5,11.8],[30.85,9.8],[31.2,7.9],[31.6,6.0],[32.0,4.4],[32.5,3.2],[33.1,2.8],[33.9,3.7],[34.56,5.0]]
];
const blobsH = [
  [[32.0,2.2],[32.6,2.4],[33.46,2.9],[34.2,4.0],[34.56,5.0],[34.3,4.5],[33.46,1.8],[32.7,0.7],[32.0,0.2]],
  [[31.5,1.8],[31.95,2.7],[32.3,2.2],[32.2,0.5],[31.7,-0.3],[31.4,0.5]]
];

const panels = [
  { lines: linesA, dotted: dottedA, dots: dotsA, blobs: blobsA, ctd: true },
  { lines: linesB, dotted: [], dots: [], blobs: blobsB, ctd: false },
  { lines: linesC, dotted: [], dots: dotsC, blobs: blobsC, ctd: true },
  { lines: linesD, dotted: [], dots: [], blobs: blobsD, ctd: false },
  { lines: linesE, dotted: dottedE, dots: dotsE, blobs: blobsE, ctd: true },
  { lines: linesF, dotted: [], dots: [], blobs: blobsF, ctd: false },
  { lines: linesG, dotted: dottedG, dots: dotsG, blobs: blobsG, ctd: true },
  { lines: linesH, dotted: [], dots: [], blobs: blobsH, ctd: false }
];

// layout (px)
const colLeft = [80.7, 443.3];
const rowTop = [58.3, 423.3, 788.3, 1153.3];
const panelW = 341, panelH = 343.4;

const chart = echarts.init(document.getElementById("chart"));

const grids = [], xAxes = [], yAxes = [], series = [];
const frame = { show: true, onZero: false, lineStyle: { color: "#8a8a8a", width: 2 } };
const labelFont = { fontSize: 22, color: "#222", fontFamily: "Liberation Sans" };

function ticks(vals) {
  return { show: true, inside: true, length: 5, customValues: vals, lineStyle: { color: "#555", width: 1.5 } };
}

panels.forEach(function (p, i) {
  const r = Math.floor(i / 2), c = i % 2;
  const showLabels = i === 6;
  grids.push({ left: colLeft[c], top: rowTop[r], width: panelW, height: panelH, outerBoundsMode: "none" });
  xAxes.push({
    gridIndex: i, type: "value", min: 27, max: 35, position: "bottom",
    axisLine: frame, axisTick: ticks(sTicks), splitLine: { show: false },
    axisLabel: Object.assign({ show: showLabels, customValues: sLabels, margin: 12 }, labelFont)
  });
  xAxes.push({
    gridIndex: i, type: "value", min: 27, max: 35, position: "top",
    axisLine: frame, axisTick: ticks(sTicks), splitLine: { show: false }, axisLabel: { show: false }
  });
  yAxes.push({
    gridIndex: i, type: "value", min: -2.5, max: 25, position: "left",
    axisLine: frame, axisTick: ticks(tTicks), splitLine: { show: false },
    axisLabel: Object.assign({ show: showLabels, customValues: tLabels, margin: 10 }, labelFont)
  });
  yAxes.push({
    gridIndex: i, type: "value", min: -2.5, max: 25, position: "right",
    axisLine: frame, axisTick: ticks(tTicks), splitLine: { show: false }, axisLabel: { show: false }
  });
  const xi = 2 * i, yi = 2 * i;

  [iso1, iso2, iso3, iso4, iso5].forEach(function (iso) {
    series.push({
      type: "line", xAxisIndex: xi, yAxisIndex: yi, data: iso, smooth: true, symbol: "none",
      silent: true, z: 1, lineStyle: { color: "#dedede", width: 1 }
    });
  });

  p.blobs.forEach(function (poly) {
    series.push({
      type: "custom", xAxisIndex: xi, yAxisIndex: yi, z: 2, silent: true,
      data: [poly[0]],
      renderItem: function (params, api) {
        return {
          type: "polygon",
          shape: { points: poly.map(function (pt) { return api.coord(pt); }) },
          style: { fill: "#000" }
        };
      }
    });
  });

  p.lines.forEach(function (ln) {
    series.push({
      type: "line", xAxisIndex: xi, yAxisIndex: yi, data: ln, symbol: "none", silent: true, z: 3,
      smooth: p.ctd ? false : 0.3,
      lineStyle: { color: "#000", width: p.ctd ? 1.6 : 2.0 }
    });
  });

  p.dotted.forEach(function (ln) {
    series.push({
      type: "line", xAxisIndex: xi, yAxisIndex: yi, data: ln, symbol: "none", silent: true, z: 3,
      lineStyle: { color: "#000", width: 1.8, type: [1.5, 2.5] }
    });
  });

  if (p.dots.length) {
    series.push({
      type: "scatter", xAxisIndex: xi, yAxisIndex: yi, data: p.dots, symbolSize: 2.8, silent: true, z: 3,
      itemStyle: { color: "#000" }
    });
  }
});

// labels drawn on top
const graphics = [];

// column titles
graphics.push({ type: "rect", z: 100, shape: { x: 332, y: 12, width: 4, height: 45 }, style: { fill: "#666" } });
graphics.push({ type: "rect", z: 101, shape: { x: 210, y: 8, width: 122, height: 47 }, style: { fill: "#fff", stroke: "#aaa", lineWidth: 1.2 } });
graphics.push({ type: "text", z: 102, x: 271, y: 32, style: { text: columnTitles[0], font: '30px "Liberation Sans"', fill: "#707070", textAlign: "center", textVerticalAlign: "middle", align: "center", verticalAlign: "middle" } });
graphics.push({ type: "rect", z: 100, shape: { x: 555, y: 12, width: 143, height: 47 }, style: { fill: "#000" } });
graphics.push({ type: "rect", z: 101, shape: { x: 551, y: 8, width: 143, height: 47 }, style: { fill: "#fff", stroke: "#444", lineWidth: 1.2 } });
graphics.push({ type: "text", z: 102, x: 622.5, y: 32, style: { text: columnTitles[1], font: '30px "Liberation Sans"', fill: "#111", textAlign: "center", textVerticalAlign: "middle", align: "center", verticalAlign: "middle" } });

// station boxes
const stationBoxW = [159, 152, 130, 155];
stationNames.forEach(function (name, r) {
  const y = 144 + 365 * r, w = stationBoxW[r];
  graphics.push({ type: "rect", z: 100, shape: { x: 362, y: y + 4, width: w, height: 39 }, style: { fill: "#000" } });
  graphics.push({ type: "rect", z: 101, shape: { x: 358, y: y, width: w, height: 39 }, style: { fill: "#fff", stroke: "#555", lineWidth: 1 } });
  graphics.push({ type: "text", z: 102, x: 358 + w / 2, y: y + 20, style: { text: name, font: '27px "Liberation Sans"', fill: "#111", textAlign: "center", textVerticalAlign: "middle", align: "center", verticalAlign: "middle" } });
});

// panel letters
panelLetters.forEach(function (t, i) {
  const r = Math.floor(i / 2), c = i % 2;
  graphics.push({ type: "text", z: 102, x: colLeft[c] + 18, y: rowTop[r] + 37, style: { text: t, font: 'bold 25px "Open Sans"', fill: "#16163a", textAlign: "left", textVerticalAlign: "middle", align: "left", verticalAlign: "middle" } });
});

// axis names
graphics.push({ type: "text", z: 102, x: 252, y: 1542, style: { text: "S", font: '23px "Liberation Sans"', fill: "#222", textAlign: "center", textVerticalAlign: "middle", align: "center", verticalAlign: "middle" } });
graphics.push({ type: "text", z: 102, x: 25, y: 1328, rotation: Math.PI / 2, style: { text: "T °C", font: '23px "Liberation Sans"', fill: "#222", textAlign: "center", textVerticalAlign: "middle", align: "center", verticalAlign: "middle" } });

chart.setOption({
  animation: false,
  backgroundColor: "#fff",
  grid: grids,
  xAxis: xAxes,
  yAxis: yAxes,
  series: series,
  graphic: { elements: graphics }
});
</script>
</body>
</html>
